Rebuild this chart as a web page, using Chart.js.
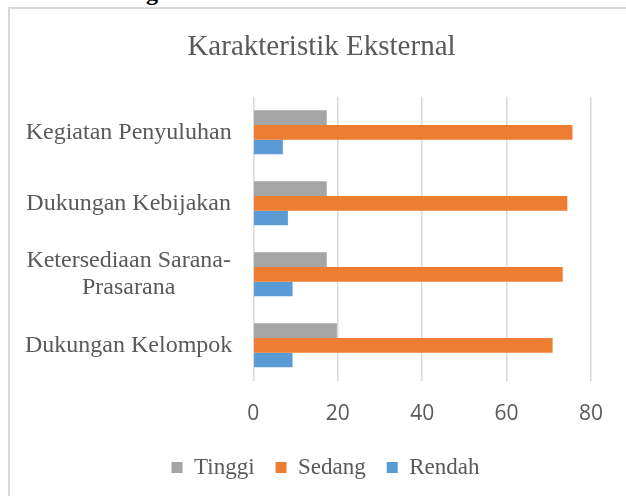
<!DOCTYPE html>
<html>
<head>
<meta charset="utf-8">
<script src="https://cdn.jsdelivr.net/npm/chart.js@4/dist/chart.umd.min.js"></script>
<style>
  html, body { margin: 0; padding: 0; background: #fff; width: 626px; height: 496px; overflow: hidden; }
  #heading { position: absolute; left: 8px; top: -21px; font: bold 24px "Liberation Serif", serif; color: #000; white-space: nowrap; }
  #frame { position: absolute; left: 8px; top: 7px; width: 700px; height: 600px; border: 2px solid #d9d9d9; background: #fff; }
  #wrap { position: absolute; left: 0; top: 0; width: 626px; height: 496px; }
</style>
</head>
<body>
<div id="heading">Grafik 4. Pengaruh Karakteristik Eksternal</div>
<div id="frame"></div>
<div id="wrap"><canvas id="c" width="626" height="496"></canvas></div>
<script>
const categories = ['Kegiatan Penyuluhan', 'Dukungan Kebijakan', ['Ketersediaan Sarana-', 'Prasarana'], 'Dukungan Kelompok'];
const tinggi = [17.4, 17.4, 17.4, 19.8];
const sedang = [75.6, 74.4, 73.3, 70.9];
const rendah = [7.0, 8.2, 9.3, 9.3];
const xTicks = [0, 20, 40, 60, 80];

const serif = '"Liberation Serif", "Times New Roman", serif';
Chart.defaults.font.family = serif;

// shift the centred title and legend to the frame's centre
const shiftBlocks = {
  id: 'shiftBlocks',
  afterLayout(chart) {
    if (chart.titleBlock) { chart.titleBlock.left += 48; }
    if (chart.legend) {
      chart.legend.left += 56;
      chart.legend.top -= 13;
      chart.legend.bottom -= 13;
    }
  }
};

new Chart(document.getElementById('c'), {
  type: 'bar',
  plugins: [shiftBlocks],
  data: {
    labels: categories,
    datasets: [
      { label: 'Tinggi', data: tinggi, backgroundColor: '#a5a5a5', borderWidth: 0 },
      { label: 'Sedang', data: sedang, backgroundColor: '#ed7d31', borderWidth: 0 },
      { label: 'Rendah', data: rendah, backgroundColor: '#5b9bd5', borderWidth: 0 }
    ]
  },
  options: {
    indexAxis: 'y',
    responsive: false,
    animation: false,
    devicePixelRatio: 1,
    layout: { padding: { left: 4, right: 35, top: 0, bottom: 0 } },
    datasets: { bar: { categoryPercentage: 0.62, barPercentage: 1.0 } },
    plugins: {
      title: {
        display: true,
        text: 'Karakteristik Eksternal',
        color: '#595959',
        font: { family: serif, size: 29, weight: 'normal' },
        padding: { top: 30, bottom: 32 }
      },
      legend: {
        position: 'bottom',
        maxHeight: 48,
        labels: {
          color: '#595959',
          font: { family: serif, size: 23 },
          boxWidth: 11,
          boxHeight: 11,
          padding: 21
        }
      },
      tooltip: { enabled: false }
    },
    scales: {
      x: {
        min: 0,
        max: 80,
        afterBuildTicks: (axis) => { axis.ticks = xTicks.map(v => ({ value: v })); },
        grid: { color: '#d9d9d9', lineWidth: 1.5, drawTicks: false },
        border: { display: false },
        ticks: { color: '#595959', font: { family: '"Open Sans", sans-serif', size: 21 }, padding: 21 }
      },
      y: {
        grid: { display: false, drawTicks: false },
        border: { display: false },
        ticks: { color: '#595959', font: { family: serif, size: 24, lineHeight: 1.1 }, padding: 21, crossAlign: 'center' }
      }
    }
  }
});
</script>
</body>
</html>
